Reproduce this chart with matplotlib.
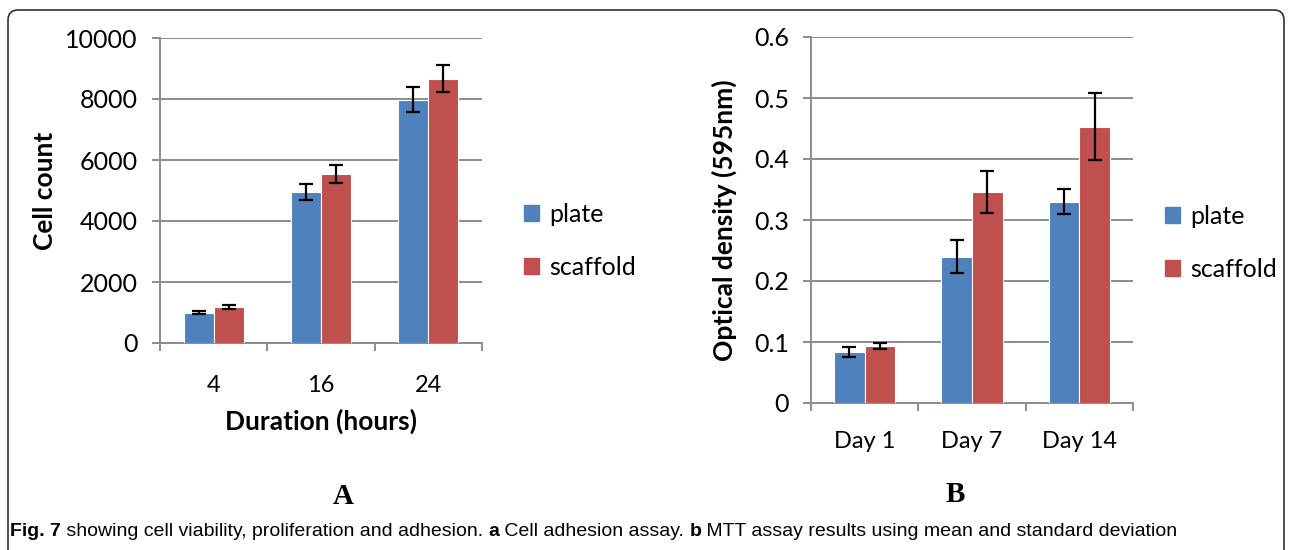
import matplotlib
matplotlib.use("Agg")
import matplotlib.pyplot as plt
import matplotlib.patches as mpatches
import numpy as np

# Panel A: cell adhesion
hours = ["4", "16", "24"]
plate_a = [1000, 4950, 7970]
plate_a_err = [60, 270, 410]
scaf_a = [1190, 5550, 8670]
scaf_a_err = [60, 290, 440]

# Panel B: MTT
days = ["Day 1", "Day 7", "Day 14"]
plate_b = [0.084, 0.240, 0.330]
plate_b_err = [0.008, 0.027, 0.020]
scaf_b = [0.094, 0.346, 0.453]
scaf_b_err = [0.005, 0.035, 0.055]

BLUE = "#4F81BD"
RED = "#C0504D"
GRID = "#8C8C8C"
plt.rcParams["font.family"] = ["Lato", "DejaVu Sans"]

W, H = 1292, 550
fig = plt.figure(figsize=(W / 100, H / 100), dpi=100)


def px_axes(x0, y0, x1, y1):
    return fig.add_axes([x0 / W, 1 - y1 / H, (x1 - x0) / W, (y1 - y0) / H])


def style(ax, ymax, ystep, cats, xpad):
    ax.set_xlim(-0.5, 2.5)
    ax.set_ylim(0, ymax)
    ax.set_yticks(np.arange(0, ymax + ystep / 2, ystep))
    ax.yaxis.grid(True, color=GRID, lw=1.4)
    ax.set_axisbelow(True)
    for s in ["top", "right"]:
        ax.spines[s].set_visible(False)
    for s in ["left", "bottom"]:
        ax.spines[s].set_color(GRID)
        ax.spines[s].set_linewidth(1.4)
    ax.set_xticks([0, 1, 2])
    ax.set_xticklabels(cats)
    ax.set_xticks([-0.5, 0.5, 1.5, 2.5], minor=True)
    ax.tick_params(axis="x", which="major", length=0, labelsize=17, pad=xpad)
    ax.tick_params(axis="x", which="minor", length=6, width=1.4, color=GRID)
    ax.tick_params(axis="y", length=6, width=1.4, color=GRID, labelsize=18, pad=10)


def bars(ax, p, pe, s, se, w):
    x = np.arange(3)
    kw = dict(capsize=5, error_kw=dict(elinewidth=1.6, capthick=1.6, ecolor="black"),
              edgecolor="white", linewidth=0.8, zorder=3)
    ax.bar(x - w / 2, p, w, yerr=pe, color=BLUE, **kw)
    ax.bar(x + w / 2, s, w, yerr=se, color=RED, **kw)


axA = px_axes(160, 38, 482, 343)
style(axA, 10000, 2000, hours, 23)
bars(axA, plate_a, plate_a_err, scaf_a, scaf_a_err, 0.28)
axA.set_ylabel("Cell count", fontsize=19, fontweight="bold", labelpad=6)
axA.set_xlabel("Duration (hours)", fontsize=19, fontweight="bold", labelpad=9)

axB = px_axes(811, 37, 1133, 403)
style(axB, 0.6, 0.1, days, 20)
axB.set_yticklabels(["0", "0.1", "0.2", "0.3", "0.4", "0.5", "0.6"])
bars(axB, plate_b, plate_b_err, scaf_b, scaf_b_err, 0.285)
axB.set_ylabel("Optical density (595nm)", fontsize=19, fontweight="bold", labelpad=12)

handles = [mpatches.Patch(color=BLUE, label="plate"), mpatches.Patch(color=RED, label="scaffold")]
for lx, ly in [(524, 203), (1165, 205)]:
    fig.legend(handles=handles, loc="upper left", bbox_to_anchor=(lx / W, 1 - ly / H),
               frameon=False, fontsize=18, handlelength=0.6, handleheight=0.6,
               handletextpad=0.4, labelspacing=1.2, borderaxespad=0, borderpad=0)

# overlay for panel letters, caption and border
ov = fig.add_axes([0, 0, 1, 1], zorder=-1)
ov.set_xlim(0, W)
ov.set_ylim(H, 0)
ov.axis("off")
ov.add_patch(mpatches.FancyBboxPatch((8, 10), 1276, 560, boxstyle="round,pad=0,rounding_size=10",
                                     fill=False, ec="#333333", lw=1.2))
ov.text(343, 497, "A", ha="center", va="center", fontsize=21, fontweight="bold",
        family="Liberation Serif")
ov.text(955, 494, "B", ha="center", va="center", fontsize=21, fontweight="bold",
        family="Liberation Serif")

parts = [("Fig. 7", "bold"), (" showing cell viability, proliferation and adhesion. ", "normal"),
         ("a", "bold"), (" Cell adhesion assay. ", "normal"), ("b", "bold"),
         (" MTT assay results using mean and standard deviation", "normal")]
fig.canvas.draw()
r = fig.canvas.get_renderer()
x = 10
for txt, wgt in parts:
    t = ov.text(x, 531, txt, ha="left", va="center", fontsize=14, fontweight=wgt,
                family=["Liberation Sans", "DejaVu Sans"])
    bb = t.get_window_extent(renderer=r)
    x += bb.width

fig.savefig("out.png", dpi=100)
